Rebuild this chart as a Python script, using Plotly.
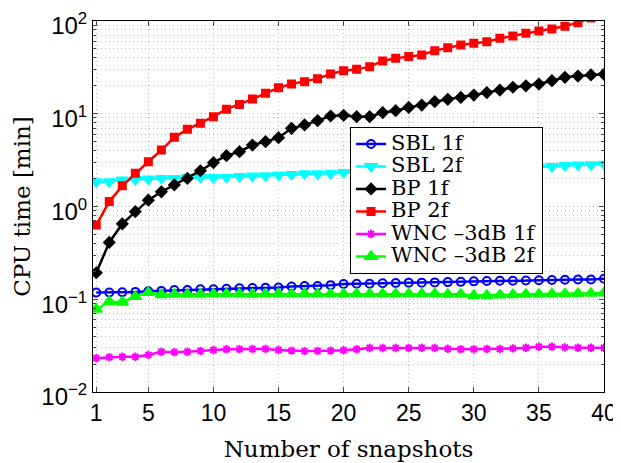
import plotly.graph_objects as go

snapshots = list(range(1, 41))

sbl_1f = [0.118, 0.118, 0.119, 0.120, 0.122, 0.123, 0.126, 0.126, 0.128, 0.128,
          0.130, 0.131, 0.132, 0.133, 0.134, 0.137, 0.139, 0.139, 0.142, 0.146,
          0.147, 0.147, 0.149, 0.150, 0.151, 0.151, 0.152, 0.153, 0.154, 0.156,
          0.157, 0.158, 0.158, 0.159, 0.160, 0.161, 0.162, 0.163, 0.163, 0.166]

sbl_2f = [1.85, 1.85, 1.93, 1.96, 1.98, 2.01, 2.01, 2.05, 2.07, 2.05,
          2.07, 2.10, 2.13, 2.15, 2.19, 2.22, 2.26, 2.25, 2.28, 2.33,
          2.36, 2.38, 2.40, 2.42, 2.44, 2.46, 2.48, 2.50, 2.52, 2.54,
          2.56, 2.58, 2.60, 2.63, 2.66, 2.70, 2.76, 2.80, 2.82, 2.86]

bp_1f = [0.193, 0.41, 0.65, 0.88, 1.17, 1.44, 1.71, 2.01, 2.43, 2.97,
         3.53, 3.90, 4.60, 5.00, 5.52, 6.97, 7.57, 8.42, 9.46, 9.62,
         9.29, 9.29, 10.3, 10.8, 11.7, 12.4, 13.5, 14.3, 15.0, 15.9,
         16.9, 18.0, 19.3, 20.0, 20.9, 22.7, 24.7, 25.5, 26.2, 26.6]

bp_2f = [0.63, 1.13, 1.67, 2.28, 3.04, 4.06, 5.57, 6.8, 7.9, 9.3,
         11.2, 12.6, 14.4, 16.6, 19.1, 20.9, 22.2, 23.9, 26.8, 29.1,
         30.1, 32.2, 37.1, 39.6, 41.3, 43.0, 47.9, 51.5, 55.1, 57.4,
         59.8, 65.0, 68.8, 73.6, 78.0, 82.0, 87.7, 96.0, 108.0, 120.0]

wnc_1f = [0.0231, 0.0237, 0.0240, 0.0240, 0.0251, 0.0272, 0.0268, 0.0272, 0.0277, 0.0284,
          0.0289, 0.0289, 0.0291, 0.0291, 0.0284, 0.0279, 0.0276, 0.0277, 0.0279, 0.0282,
          0.0289, 0.0298, 0.0298, 0.0298, 0.0298, 0.0300, 0.0298, 0.0293, 0.0289, 0.0289,
          0.0291, 0.0291, 0.0295, 0.0300, 0.0308, 0.0308, 0.0303, 0.0300, 0.0300, 0.0300]

wnc_2f = [0.078, 0.094, 0.093, 0.107, 0.118, 0.112, 0.113, 0.113, 0.113, 0.114,
          0.114, 0.114, 0.113, 0.114, 0.114, 0.114, 0.114, 0.114, 0.114, 0.114,
          0.114, 0.114, 0.114, 0.114, 0.114, 0.114, 0.114, 0.113, 0.113, 0.110,
          0.110, 0.111, 0.112, 0.113, 0.113, 0.114, 0.114, 0.115, 0.116, 0.117]

series_names = ["SBL 1f", "SBL 2f", "BP 1f", "BP 2f", "WNC \u20133dB 1f", "WNC \u20133dB 2f"]
series_values = [sbl_1f, sbl_2f, bp_1f, bp_2f, wnc_1f, wnc_2f]
series_colors = ["#0000ff", "#00ffff", "#000000", "#ff0000", "#ff00ff", "#00ff00"]
series_symbols = ["circle-open", "triangle-down", "diamond", "square", "asterisk-open", "triangle-up"]
series_sizes = [8, 10, 8, 7, 7, 10]

x_ticks = [1, 5, 10, 15, 20, 25, 30, 35, 40]
y_ticks = [0.01, 0.1, 1, 10, 100]
y_ticktext = ["10<sup>\u22122</sup>", "10<sup>\u22121</sup>", "10<sup>0</sup>", "10<sup>1</sup>", "10<sup>2</sup>"]
y_minor = [m * 10.0 ** e for e in range(-2, 2) for m in range(2, 10)]

SERIF = "DejaVu Serif"
SANS = "Liberation Sans, Arial, sans-serif"
GRID = "#bdbdbd"
DOTS = "1px,3px"

fig = go.Figure()
for name, vals, col, sym, sz in zip(series_names, series_values, series_colors,
                                    series_symbols, series_sizes):
    fig.add_trace(go.Scatter(
        x=snapshots, y=vals, mode="lines+markers",
        name='<span style="font-size:21px">' + name + "</span>",
        line=dict(color=col, width=2.5),
        marker=dict(symbol=sym, size=sz, color=col,
                    line=dict(color=col, width=2)),
    ))

fig.update_layout(
    width=613, height=455,
    margin=dict(l=85, r=17, t=13, b=71, autoexpand=False),
    paper_bgcolor="white", plot_bgcolor="white",
    font=dict(family=SANS, color="black"),
    legend=dict(
        x=0.503, y=0.715, xanchor="left", yanchor="top",
        bgcolor="white", bordercolor="black", borderwidth=1,
        font=dict(family=SERIF, size=15, color="black"),
        itemwidth=30, tracegroupgap=0,
    ),
    xaxis=dict(
        range=[0.75, 40], tickvals=x_ticks, automargin=False,
        ticks="inside", ticklen=5, mirror="ticks",
        showline=True, linecolor="black", linewidth=1,
        showgrid=True, gridcolor=GRID, griddash=DOTS, gridwidth=1,
        zeroline=False, ticklabeloverflow="allow",
        tickfont=dict(family=SANS, size=23, color="black"),
        title=dict(text="Number of snapshots", standoff=16,
                   font=dict(family=SERIF, size=23, color="black")),
    ),
    yaxis=dict(
        type="log", range=[-2, 2], automargin=False,
        tickmode="array", tickvals=y_ticks, ticktext=y_ticktext,
        ticks="inside", ticklen=5, mirror="ticks",
        showline=True, linecolor="black", linewidth=1,
        showgrid=True, gridcolor=GRID, griddash=DOTS, gridwidth=1,
        zeroline=False, ticklabeloverflow="allow", ticklabelshift=5,
        tickfont=dict(family=SANS, size=24, color="black"),
        minor=dict(tickmode="array", tickvals=y_minor, ticks="inside", ticklen=3,
                   showgrid=True, gridcolor=GRID, griddash=DOTS, gridwidth=1),
        title=dict(text="CPU time [min]", standoff=4,
                   font=dict(family=SERIF, size=23, color="black")),
    ),
)

fig.write_html("out.html")
